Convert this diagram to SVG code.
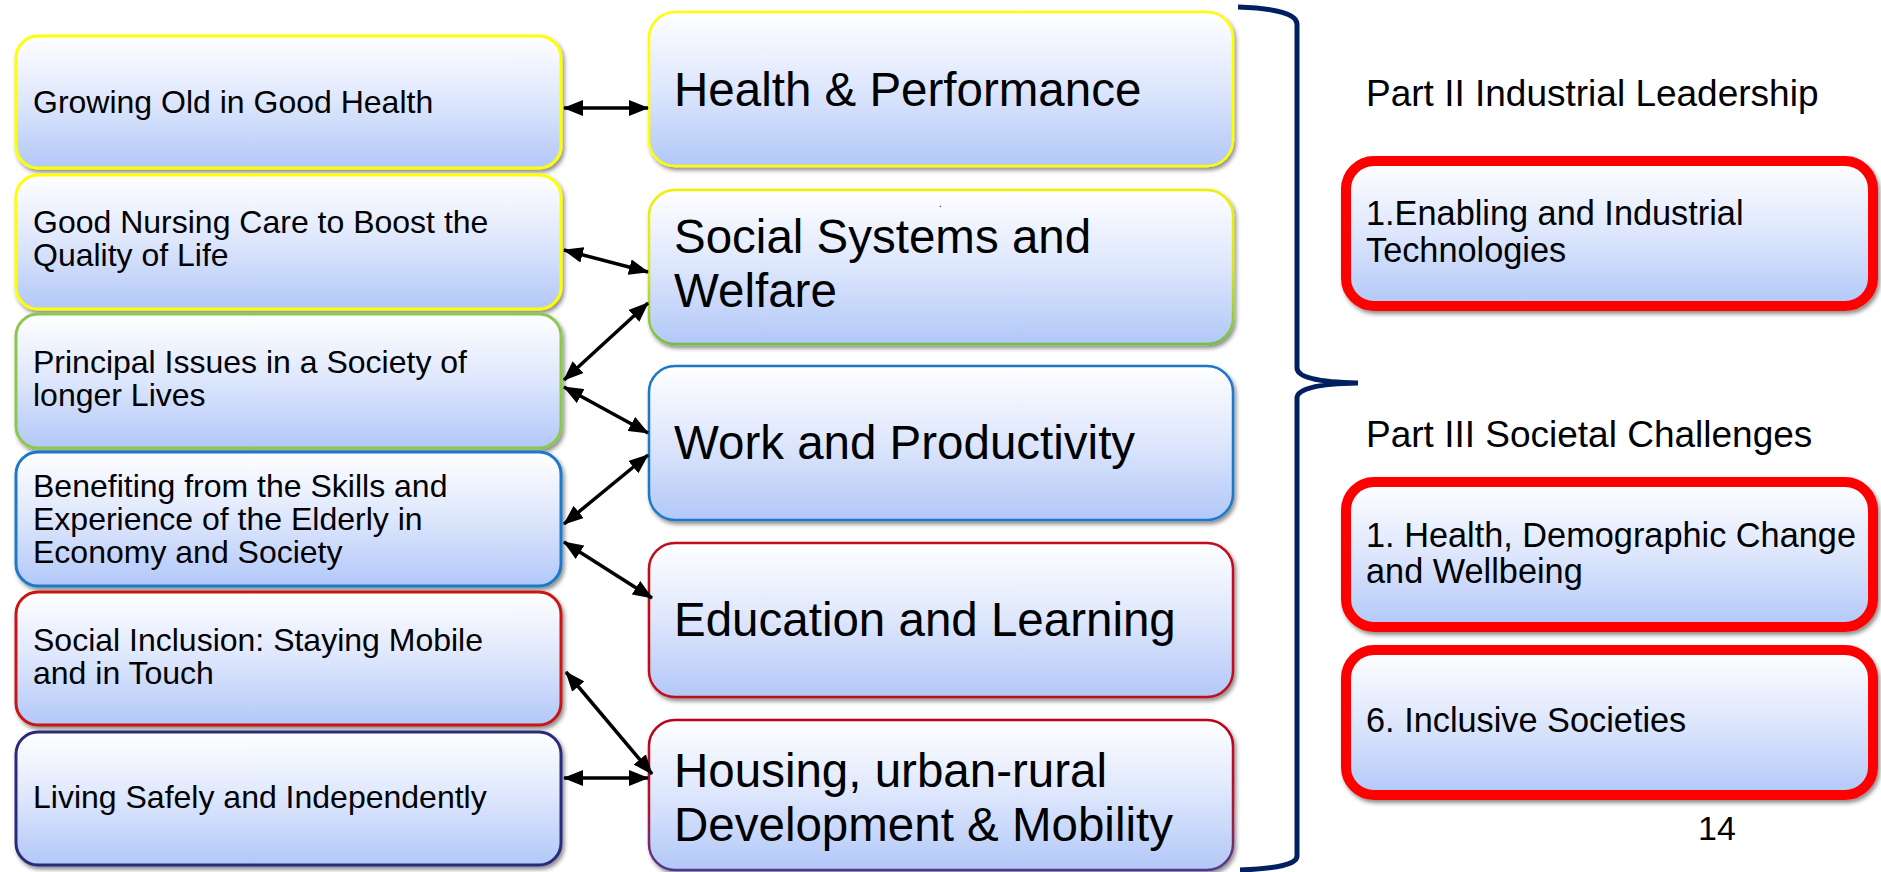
<svg xmlns="http://www.w3.org/2000/svg" width="1881" height="872" viewBox="0 0 1881 872">
<defs>
<linearGradient id="fillG" x1="0" y1="0" x2="0" y2="1">
<stop offset="0" stop-color="#ffffff"/>
<stop offset="0.5" stop-color="#dde6fc"/>
<stop offset="1" stop-color="#b2c8f8"/>
</linearGradient>
<linearGradient id="yg" x1="0" y1="0" x2="0" y2="1">
<stop offset="0" stop-color="#f0f000"/>
<stop offset="0.5" stop-color="#d8e820"/>
<stop offset="1" stop-color="#72c040"/>
</linearGradient>
<linearGradient id="rp" x1="0" y1="0" x2="0" y2="1">
<stop offset="0" stop-color="#c00018"/>
<stop offset="0.6" stop-color="#a81838"/>
<stop offset="1" stop-color="#503890"/>
</linearGradient>
<filter id="sh" x="-5%" y="-5%" width="112%" height="120%">
<feDropShadow dx="2" dy="3" stdDeviation="2" flood-color="#000" flood-opacity="0.45"/>
</filter>
<marker id="ah" viewBox="0 0 20 16" refX="19" refY="8" markerWidth="20" markerHeight="16" markerUnits="userSpaceOnUse" orient="auto-start-reverse">
<path d="M0,0 L20,8 L0,16 z" fill="#000"/>
</marker>
</defs>
<style>
.box{fill:url(#fillG);filter:url(#sh)}
.lb{stroke-width:3}
.mb{stroke-width:2.5}
.rb{stroke:#ff0000;stroke-width:10}
.t{font-family:"Liberation Sans",Arial,sans-serif;fill:#000}
.ls{font-size:32px}
.ms{font-size:47.5px}
.rs{font-size:34.3px}
.hs{font-size:37px}
.conn line{stroke:#000;stroke-width:3.5;marker-start:url(#ah);marker-end:url(#ah)}
</style>
<rect width="1881" height="872" fill="#ffffff"/>

<g id="left1"><rect class="box lb" x="16" y="36" width="545" height="132" rx="22" stroke="#ffff00"/><text class="t ls" x="33" y="113">Growing Old in Good Health</text></g>
<g id="left2"><rect class="box lb" x="16" y="175" width="545" height="134" rx="22" stroke="#ffff00"/><text class="t ls" x="33" y="233">Good Nursing Care to Boost the</text><text class="t ls" x="33" y="266">Quality of Life</text></g>
<g id="left3"><rect class="box lb" x="16" y="314" width="545" height="134" rx="22" stroke="#8cc850"/><text class="t ls" x="33" y="373">Principal Issues in a Society of</text><text class="t ls" x="33" y="406">longer Lives</text></g>
<g id="left4"><rect class="box lb" x="16" y="452" width="545" height="134" rx="22" stroke="#1e78c8"/><text class="t ls" x="33" y="497">Benefiting from the Skills and</text><text class="t ls" x="33" y="530">Experience of the Elderly in</text><text class="t ls" x="33" y="563">Economy and Society</text></g>
<g id="left5"><rect class="box lb" x="16" y="592" width="545" height="133" rx="22" stroke="#c81414"/><text class="t ls" x="33" y="651">Social Inclusion: Staying Mobile</text><text class="t ls" x="33" y="684">and in Touch</text></g>
<g id="left6"><rect class="box lb" x="16" y="732" width="545" height="133" rx="22" stroke="#2c2c7c"/><text class="t ls" x="33" y="808">Living Safely and Independently</text></g>

<g id="mid1"><rect class="box mb" x="649" y="12" width="584" height="154" rx="26" stroke="#ffff00"/><text class="t ms" x="674" y="106">Health &amp; Performance</text></g>
<g id="mid2"><rect class="box mb" x="649" y="190" width="584" height="154" rx="26" stroke="url(#yg)"/><text class="t ms" x="674" y="253">Social Systems and</text><text class="t ms" x="674" y="307">Welfare</text><text class="t" x="939" y="207" font-size="10">.</text></g>
<g id="mid3"><rect class="box mb" x="649" y="366" width="584" height="154" rx="26" stroke="#1e78c8"/><text class="t ms" x="674" y="459">Work and Productivity</text></g>
<g id="mid4"><rect class="box mb" x="649" y="543" width="584" height="154" rx="26" stroke="#c0101c"/><text class="t ms" x="674" y="636">Education and Learning</text></g>
<g id="mid5"><rect class="box mb" x="649" y="720" width="584" height="150" rx="26" stroke="url(#rp)"/><text class="t ms" x="674" y="787">Housing, urban-rural</text><text class="t ms" x="674" y="841">Development &amp; Mobility</text></g>

<g id="brace"><path d="M1238 7 Q1297 9 1297 24 L1297 368 Q1297 382 1358 383 Q1297 384 1297 398 L1297 856 Q1297 868 1240 870" fill="none" stroke="#002060" stroke-width="5"/></g>

<g id="head2"><text class="t hs" x="1366" y="106">Part II Industrial Leadership</text></g>
<g id="right1"><rect class="box rb" x="1346" y="161" width="527" height="145" rx="28"/><text class="t rs" x="1366" y="225">1.Enabling and Industrial</text><text class="t rs" x="1366" y="262">Technologies</text></g>
<g id="head3"><text class="t hs" x="1366" y="447">Part III Societal Challenges</text></g>
<g id="right2"><rect class="box rb" x="1346" y="482" width="527" height="145" rx="28"/><text class="t rs" x="1366" y="547">1. Health, Demographic Change</text><text class="t rs" x="1366" y="583">and Wellbeing</text></g>
<g id="right3"><rect class="box rb" x="1346" y="650" width="527" height="145" rx="28"/><text class="t rs" x="1366" y="732">6. Inclusive Societies</text></g>
<g id="pagenum"><text class="t" x="1698" y="840" font-size="34">14</text></g>

<g id="connectors" class="conn">
<line x1="564" y1="108" x2="648" y2="108"/>
<line x1="564" y1="250" x2="648" y2="272"/>
<line x1="564" y1="380" x2="648" y2="303"/>
<line x1="564" y1="387" x2="648" y2="433"/>
<line x1="564" y1="524" x2="648" y2="455"/>
<line x1="564" y1="542" x2="652" y2="598"/>
<line x1="566" y1="672" x2="652" y2="774"/>
<line x1="564" y1="778" x2="648" y2="778"/>
</g>
</svg>
